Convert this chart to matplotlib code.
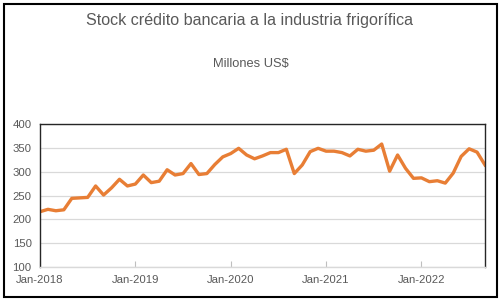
import matplotlib
matplotlib.use("Agg")
import matplotlib.pyplot as plt
from matplotlib.patches import Rectangle

title = "Stock crédito bancaria a la industria frigorífica"
subtitle = "Millones US$"
tick_labels = ["Jan-2018", "Jan-2019", "Jan-2020", "Jan-2021", "Jan-2022"]
tick_months = [0, 12, 24, 36, 48]
values_2018 = [216, 221, 218, 220, 244, 245, 246, 270, 251, 266, 284, 270]
values_2019 = [274, 293, 277, 280, 304, 293, 296, 317, 294, 296, 315, 331]
values_2020 = [338, 349, 335, 327, 333, 340, 340, 347, 296, 314, 342, 349]
values_2021 = [343, 343, 340, 333, 347, 343, 345, 358, 301, 335, 307, 286]
values_2022 = [287, 279, 281, 276, 297, 332, 348, 341, 314]
values = values_2018 + values_2019 + values_2020 + values_2021 + values_2022
months = list(range(len(values)))
yticks = [100, 150, 200, 250, 300, 350, 400]

plt.rcParams['font.family'] = ['Liberation Sans', 'DejaVu Sans']
W, H = 504, 303
fig = plt.figure(figsize=(W / 100, H / 100), dpi=100)
fig.patch.set_facecolor("white")

# figure border
fig.patches.append(Rectangle((4 / W, 6 / H), 493 / W, 293 / H, transform=fig.transFigure,
                             fill=False, edgecolor="black", linewidth=1.5))

ax = fig.add_axes([40 / W, 36 / H, 445 / W, 143 / H])
ax.plot(months, values, color="#E87E35", linewidth=2.4, solid_joinstyle="round")
ax.set_xlim(0, len(values) - 1)
ax.set_ylim(100, 400)
ax.set_yticks(yticks)
ax.set_xticks(tick_months)
ax.set_xticklabels(tick_labels)
ax.grid(axis="y", color="#d9d9d9", linewidth=0.9)
ax.set_axisbelow(True)
for s in ["left", "right", "top"]:
    ax.spines[s].set_color("#262626")
    ax.spines[s].set_linewidth(1.0)
ax.spines["bottom"].set_color("#d9d9d9")
ax.spines["bottom"].set_linewidth(1.0)
ax.tick_params(axis="y", length=0, pad=6, labelsize=8.2, labelcolor="#595959")
ax.tick_params(axis="x", direction="in", length=4, color="#bfbfbf", pad=6,
               labelsize=8.2, labelcolor="#595959")

fig.text(250 / W, 1 - 20 / H, title, ha="center", va="center", fontsize=11.6, color="#595959")
fig.text(251 / W, 1 - 64 / H, subtitle, ha="center", va="center", fontsize=9.3, color="#595959")

fig.savefig("out.png", dpi=100)
